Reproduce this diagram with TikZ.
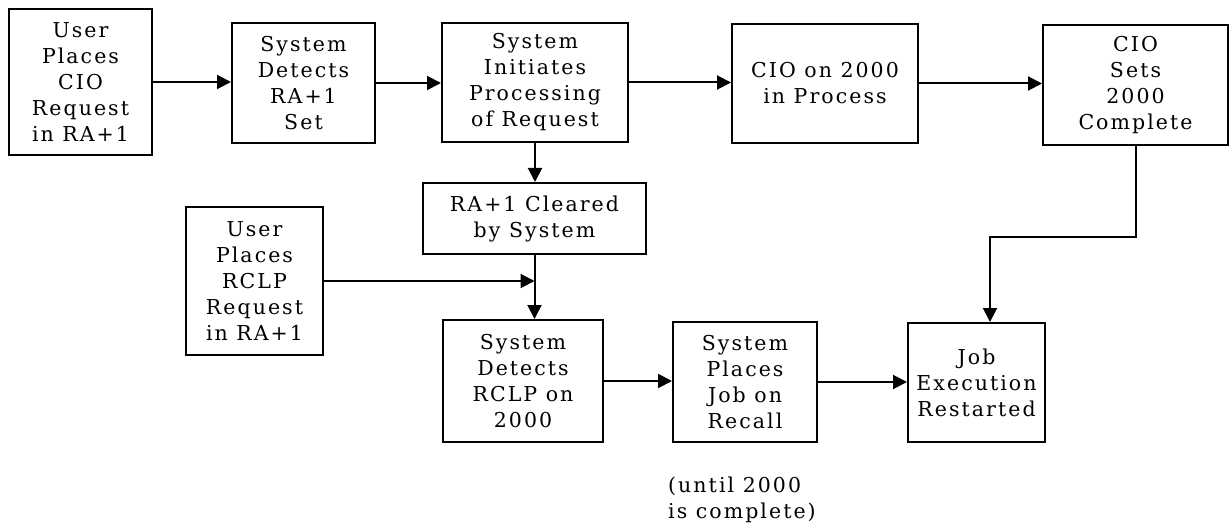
\documentclass[tikz,border=0pt]{standalone}
\usepackage{fontspec}
\setmainfont{DejaVu Serif}[LetterSpace=10]
\usetikzlibrary{arrows.meta,calc}
\begin{document}
\begin{tikzpicture}[x=1pt,y=-1pt,
  txt/.style={font=\fontsize{20.5}{26}\selectfont},
  box/.style={draw, line width=2pt, align=center, inner sep=0pt, txt},
  arr/.style={line width=2pt, -{Triangle[length=14pt,width=14pt]}},
  ln/.style={line width=2pt}]
\useasboundingbox (0,0) rectangle (1230,529);
\node[box, minimum width=143pt, minimum height=146pt] (b1) at (80.5,82) {User\\Places\\CIO\\Request\\in RA+1};
\node[box, minimum width=143pt, minimum height=120pt] (b2) at (303.5,83) {System\\Detects\\RA+1\\Set};
\node[box, minimum width=186pt, minimum height=119pt] (b3) at (535,82.5) {System\\Initiates\\Processing\\of Request};
\node[box, minimum width=186pt, minimum height=119pt] (b4) at (825,83.5) {CIO on 2000\\in Process};
\node[box, minimum width=185pt, minimum height=120pt] (b5) at (1135.5,85) {CIO\\Sets\\2000\\Complete};
\node[box, minimum width=223pt, minimum height=71pt] (b6) at (534.5,218.5) {RA+1 Cleared\\by System};
\node[box, minimum width=137pt, minimum height=148pt] (b7) at (254.5,281) {User\\Places\\RCLP\\Request\\in RA+1};
\node[box, minimum width=160pt, minimum height=122pt] (b8) at (523,381) {System\\Detects\\RCLP on\\2000};
\node[box, minimum width=144pt, minimum height=120pt] (b9) at (745,382) {System\\Places\\Job on\\Recall};
\node[box, minimum width=137pt, minimum height=119pt] (b10) at (976.5,382.5) {Job\\Execution\\Restarted};
\node[txt, align=left, inner sep=0pt, anchor=west] (note) at (668,500) {(until 2000\\is complete)};
\coordinate (j) at (b6.south |- b7.east);
\coordinate (bend) at (990,237);
\draw[arr] (b1.east) -- (b1.east -| b2.west);
\draw[arr] (b2.east) -- (b2.east -| b3.west);
\draw[arr] (b3.east) -- (b3.east -| b4.west);
\draw[arr] (b4.east) -- (b4.east -| b5.west);
\draw[arr] (b3.south) -- (b3.south |- b6.north);
\draw[arr] (b6.south) -- (b6.south |- b8.north);
\draw[arr] (b7.east) -- (j);
\draw[arr] (b8.east) -- (b8.east -| b9.west);
\draw[arr] (b9.east) -- (b9.east -| b10.west);
\draw[arr] (b5.south) |- (bend) -- (bend |- b10.north);
\end{tikzpicture}
\end{document}
